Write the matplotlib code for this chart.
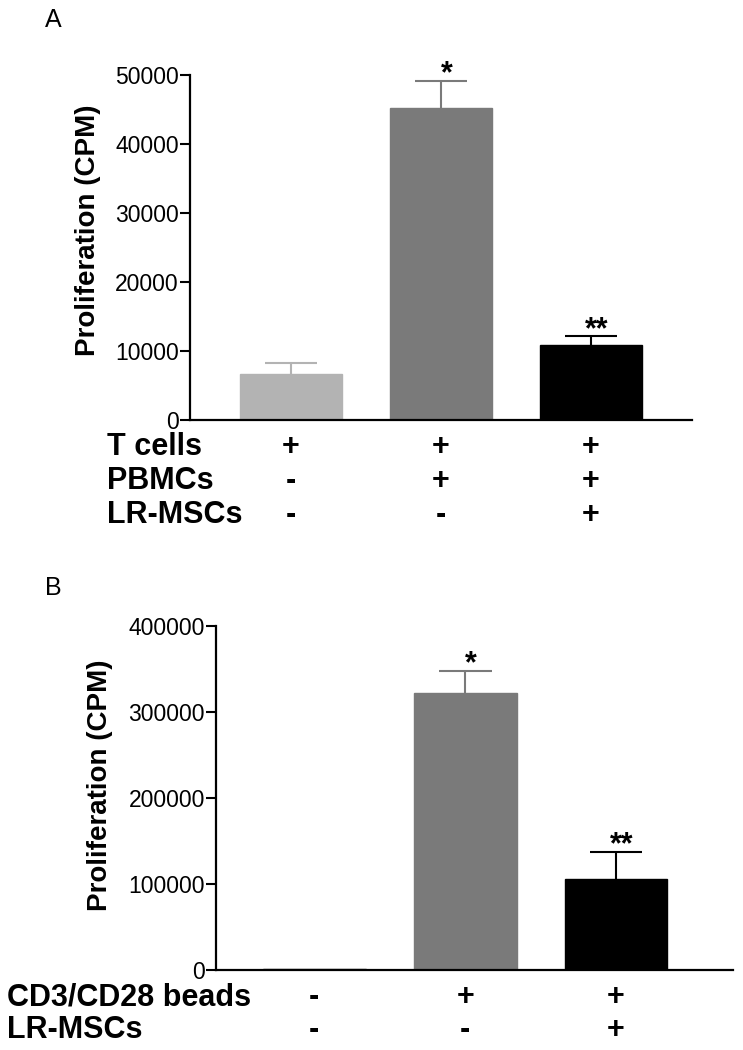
import matplotlib
matplotlib.use("Agg")
import matplotlib.pyplot as plt

plt.rcParams["font.family"] = ["Liberation Sans", "DejaVu Sans"]

# panel A
a_means = [6700, 45200, 10900]
a_sem = [1630, 4000, 1210]
a_colors = ["#b3b3b3", "#7a7a7a", "#000000"]
a_stars = ["", "*", "**"]
a_rows = ["T cells", "PBMCs", "LR-MSCs"]
a_signs = [["+", "+", "+"], ["-", "+", "+"], ["-", "-", "+"]]
a_yticks = [0, 10000, 20000, 30000, 40000, 50000]

# panel B
b_means = [1500, 321700, 105800]
b_sem = [0, 26300, 31400]
b_colors = ["#b3b3b3", "#7a7a7a", "#000000"]
b_stars = ["", "*", "**"]
b_rows = ["CD3/CD28 beads", "LR-MSCs"]
b_signs = [["-", "+", "+"], ["-", "-", "+"]]
b_yticks = [0, 100000, 200000, 300000, 400000]

W, H = 743, 1050
fig = plt.figure(figsize=(W / 100, H / 100), dpi=100)


def px(x, y):
    return x / W, 1 - y / H


def panel(rect, means, sem, colors, stars, yticks, xlim, first_edge):
    ax = fig.add_axes(rect)
    x = list(range(len(means)))
    edges = [first_edge] + colors[1:]
    ax.bar(x, means, width=0.68, color=colors, edgecolor=edges, linewidth=1.0, zorder=2)
    for i in x:
        top = means[i] + sem[i]
        if sem[i] > 0:
            # upper error bar only, no cap on the bar top
            ax.vlines(i, means[i], top, color=colors[i], linewidth=1.5, zorder=1)
            ax.hlines(top, i - 0.175, i + 0.175, color=colors[i], linewidth=1.5, zorder=1)
        if stars[i]:
            ax.annotate(stars[i], (i, top), xytext=(4, -6),
                        textcoords="offset points", ha="center", va="bottom",
                        fontsize=22, fontweight="bold")
    ax.set_xlim(*xlim)
    ax.set_ylim(0, yticks[-1])
    ax.set_yticks(yticks)
    ax.set_yticklabels([str(t) for t in yticks])
    ax.set_xticks([])
    ax.tick_params(axis="y", length=7, width=1.5, labelsize=16.5, pad=1)
    for s in ["top", "right"]:
        ax.spines[s].set_visible(False)
    for s in ["left", "bottom"]:
        ax.spines[s].set_linewidth(1.6)
    return ax


# panel A axes: x 190-692, y 75-420 px
axA = panel([190 / W, 1 - 420 / H, 502 / W, 345 / H], a_means, a_sem, a_colors,
            a_stars, a_yticks, (-0.673, 2.673), a_colors[0])
# panel B axes: x 216-733, y 626-970 px
axB = panel([216 / W, 1 - 970 / H, 517 / W, 344 / H], b_means, b_sem, b_colors,
            b_stars, b_yticks, (-0.652, 2.775), "#222222")

fig.text(*px(45, 20), "A", fontsize=18, ha="left", va="center")
fig.text(*px(45, 588), "B", fontsize=18, ha="left", va="center")

fig.text(*px(88, 230), "Proliferation (CPM)", rotation=90, fontsize=20,
         fontweight="bold", ha="center", va="center")
fig.text(*px(100, 785), "Proliferation (CPM)", rotation=90, fontsize=20,
         fontweight="bold", ha="center", va="center")

# condition tables under the bars
for ax, rows, signs, label_x, row_y, top, bottom in [
    (axA, a_rows, a_signs, 107, [447, 481, 515], 75, 420),
    (axB, b_rows, b_signs, 7, [997, 1030], 626, 970),
]:
    for r, name in enumerate(rows):
        fig.text(*px(label_x, row_y[r]), name, fontsize=22, fontweight="bold",
                 ha="left", va="center")
        yfrac = (bottom - row_y[r]) / (bottom - top)
        for i, sign in enumerate(signs[r]):
            ax.text(i, yfrac, sign, transform=ax.get_xaxis_transform(),
                    fontsize=22, fontweight="bold", ha="center", va="center")

fig.savefig("out.png", dpi=100)
